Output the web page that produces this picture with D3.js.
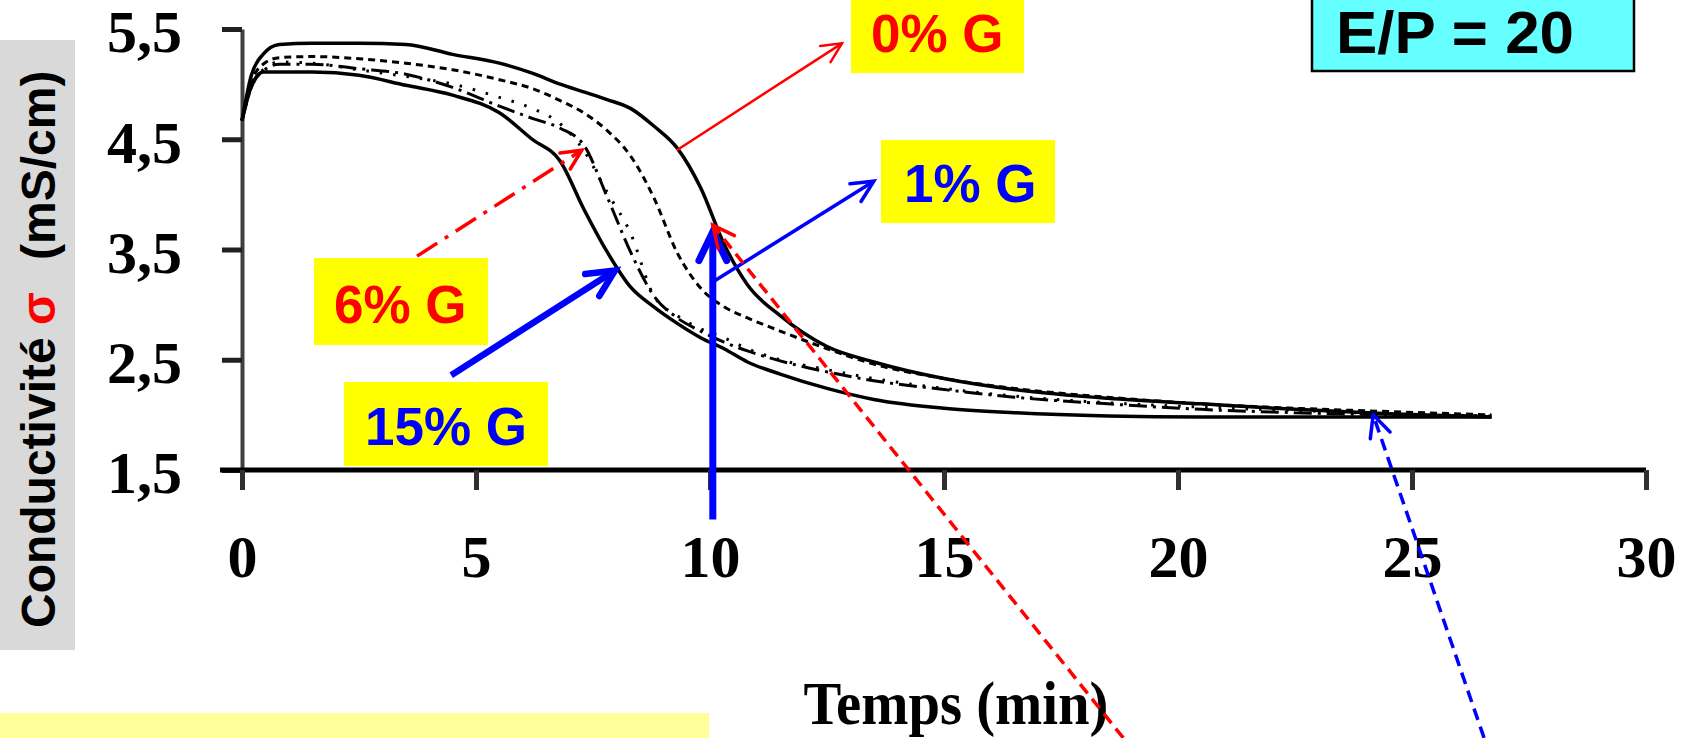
<!DOCTYPE html>
<html>
<head>
<meta charset="utf-8">
<script src="https://cdn.jsdelivr.net/npm/d3@7"></script>
<style>
  body { margin: 0; background: #fff; }
  svg { display: block; }
</style>
</head>
<body>
<script>
// time grid (min) shared by all curves
const temps = [0, 0.2, 0.45, 0.8, 1.5, 2.5, 3.5, 4.5, 5.5, 6.2, 6.8, 7.3, 7.8, 8.3, 8.8,
               9.3, 9.8, 10.3, 10.8, 11.5, 12.5, 13.5, 15, 16.5, 18.5, 20.5, 22.5, 24.5, 26.7];

// conductivity (mS/cm)
const sigma0 = [4.67, 5.08, 5.27, 5.36, 5.37, 5.37, 5.36, 5.27, 5.19, 5.10, 5.00, 4.93, 4.86, 4.78, 4.62,
                4.42, 4.06, 3.55, 3.18, 2.90, 2.62, 2.48, 2.33, 2.23, 2.15, 2.10, 2.05, 2.01, 1.98];
const sigma1 = [4.67, 5.02, 5.18, 5.24, 5.25, 5.23, 5.19, 5.13, 5.04, 4.96, 4.85, 4.74, 4.58, 4.35, 3.97,
                3.47, 3.15, 2.98, 2.88, 2.76, 2.60, 2.46, 2.33, 2.24, 2.16, 2.10, 2.06, 2.03, 2.00];
const sigmaDot = [4.67, 4.98, 5.13, 5.20, 5.19, 5.13, 5.07, 5.00, 4.88, 4.78, 4.64, 4.40, 4.02, 3.65, 3.08,
                  2.90, 2.78, 2.70, 2.60, 2.50, 2.41, 2.33, 2.24, 2.17, 2.11, 2.07, 2.04, 2.01, 1.99];
const sigma6 = [4.67, 4.97, 5.12, 5.18, 5.18, 5.14, 5.09, 4.97, 4.80, 4.69, 4.60, 4.45, 3.98, 3.48, 3.08,
                2.88, 2.76, 2.66, 2.58, 2.49, 2.39, 2.31, 2.23, 2.16, 2.10, 2.05, 2.02, 2.00, 1.99];
const sigma15 = [4.67, 4.98, 5.11, 5.11, 5.11, 5.08, 4.99, 4.90, 4.74, 4.50, 4.30, 3.87, 3.48, 3.16, 2.98,
                 2.83, 2.70, 2.60, 2.48, 2.37, 2.24, 2.14, 2.06, 2.02, 1.99, 1.98, 1.98, 1.98, 1.98];

const xTicks = [0, 5, 10, 15, 20, 25, 30];
const yTicks = [1.5, 2.5, 3.5, 4.5, 5.5];

const W = 1685, H = 738;

const svg = d3.select("body").append("svg")
    .attr("width", W)
    .attr("height", H);

// scales
const xScale = d3.scaleLinear().domain([0, 30]).range([242, 1646]);
const yScale = d3.scaleLinear().domain([1.5, 5.5]).range([470, 29]);

// grey band behind the y title, pale yellow strip bottom left
svg.append("rect").attr("x", 0).attr("y", 40).attr("width", 75).attr("height", 610).attr("fill", "#d9d9d9");
svg.append("rect").attr("x", 0).attr("y", 713).attr("width", 709).attr("height", 30).attr("fill", "#ffff99");

// y axis
const yAxis = d3.axisLeft(yScale)
    .tickValues(yTicks)
    .tickSize(20)
    .tickSizeOuter(0)
    .tickPadding(40)
    .tickFormat(d => d3.format(".1f")(d).replace(".", ","));
const gy = svg.append("g")
    .attr("transform", `translate(${xScale(0)},0)`)
    .call(yAxis);
gy.select(".domain").attr("stroke", "#404040").attr("stroke-width", 4);
gy.selectAll(".tick line").attr("stroke", "#202020").attr("stroke-width", 5);
gy.selectAll(".tick text")
    .attr("font-family", "'Liberation Serif', 'Times New Roman', serif")
    .attr("font-weight", "bold")
    .attr("font-size", 60)
    .attr("fill", "#000")
    .attr("dy", "0.38em");

// x axis
const xAxis = d3.axisBottom(xScale)
    .tickValues(xTicks)
    .tickSize(20)
    .tickSizeOuter(0);
const gx = svg.append("g")
    .attr("transform", `translate(0,${yScale(1.5)})`)
    .call(xAxis);
gx.select(".domain").attr("stroke", "#000").attr("stroke-width", 5)
    .attr("d", `M${xScale(0) - 22},0H${xScale(30)}`);
gx.selectAll(".tick line").attr("stroke", "#303030").attr("stroke-width", 5);
gx.selectAll(".tick text")
    .attr("font-family", "'Liberation Serif', 'Times New Roman', serif")
    .attr("font-weight", "bold")
    .attr("font-size", 60)
    .attr("fill", "#000")
    .attr("y", 107)
    .attr("dy", 0);

// axis titles
svg.append("text")
    .attr("x", 956)
    .attr("y", 724)
    .attr("text-anchor", "middle")
    .attr("font-family", "'Liberation Serif', 'Times New Roman', serif")
    .attr("font-weight", "bold")
    .attr("font-size", 62)
    .attr("textLength", 305)
    .attr("lengthAdjust", "spacingAndGlyphs")
    .text("Temps (min)");

const yTitle = svg.append("g")
    .attr("transform", "translate(55,628) rotate(-90)")
    .attr("font-family", "'Liberation Sans', Arial, sans-serif")
    .attr("font-weight", "bold")
    .attr("font-size", 48);
yTitle.append("text").attr("x", 0).attr("fill", "#000").text("Conductivité");
yTitle.append("text").attr("x", 303).attr("fill", "#ff0000").text("σ");
yTitle.append("text").attr("x", 368).attr("fill", "#000").text("(mS/cm)");

// curves
const series = [
  {values: sigma0, dash: null, width: 3.5},
  {values: sigma1, dash: "7,5", width: 3},
  {values: sigmaDot, dash: "2.5,11", width: 3},
  {values: sigma6, dash: "18,6,3,6", width: 3},
  {values: sigma15, dash: null, width: 3.5}
];

const valueline = d3.line()
    .x((d, i) => xScale(temps[i]))
    .y(d => yScale(d))
    .curve(d3.curveMonotoneX);

svg.selectAll("path.curve")
    .data(series)
    .enter().append("path")
    .attr("class", "curve")
    .attr("d", d => valueline(d.values))
    .attr("fill", "none")
    .attr("stroke", "#000")
    .attr("stroke-width", d => d.width)
    .attr("stroke-dasharray", d => d.dash);

// annotation arrows (data coordinates)
const arrows = [
  {from: [9.29, 4.40], to: [12.82, 5.37], color: "#ff0000", w: 2.5, dash: null, head: 22},
  {from: [10.04, 3.20], to: [13.5, 4.12], color: "#0000ff", w: 3.5, dash: null, head: 24},
  {from: [3.74, 3.44], to: [7.26, 4.40], color: "#ff0000", w: 3.5, dash: "24,9,4,9", head: 22},
  {from: [4.47, 2.36], to: [7.97, 3.31], color: "#0000ff", w: 6.5, dash: null, head: 30},
  {from: [10.06, 1.05], to: [10.06, 3.66], color: "#0000ff", w: 7, dash: null, head: 32},
  {from: [18.83, -0.93], to: [10.06, 3.72], color: "#ff0000", w: 3.5, dash: "12,7", head: 24},
  {from: [26.54, -0.93], to: [24.17, 2.0], color: "#0000ff", w: 3.5, dash: "12,7", head: 24}
];

arrows.forEach(a => {
  const x1 = xScale(a.from[0]), y1 = yScale(a.from[1]);
  const x2 = xScale(a.to[0]), y2 = yScale(a.to[1]);
  svg.append("line")
      .attr("x1", x1).attr("y1", y1)
      .attr("x2", x2).attr("y2", y2)
      .attr("stroke", a.color)
      .attr("stroke-width", a.w)
      .attr("stroke-dasharray", a.dash);
  const ang = Math.atan2(y2 - y1, x2 - x1);
  const p = d3.path();
  p.moveTo(x2 - a.head * Math.cos(ang - 0.45), y2 - a.head * Math.sin(ang - 0.45));
  p.lineTo(x2, y2);
  p.lineTo(x2 - a.head * Math.cos(ang + 0.45), y2 - a.head * Math.sin(ang + 0.45));
  svg.append("path")
      .attr("d", p.toString())
      .attr("fill", "none")
      .attr("stroke", a.color)
      .attr("stroke-width", a.w)
      .attr("stroke-linecap", "round");
});

// labels in yellow boxes
const labels = [
  {text: "0% G", color: "#ff0000", box: [851, -5, 173, 78], tx: 871, ty: 52},
  {text: "1% G", color: "#0000ff", box: [881, 140, 174, 83], tx: 904, ty: 202},
  {text: "6% G", color: "#ff0000", box: [314, 258, 174, 87], tx: 334, ty: 323},
  {text: "15% G", color: "#0000ff", box: [344, 382, 204, 84], tx: 365, ty: 445}
];

labels.forEach(l => {
  svg.append("rect")
      .attr("x", l.box[0]).attr("y", l.box[1])
      .attr("width", l.box[2]).attr("height", l.box[3])
      .attr("fill", "#ffff00");
  svg.append("text")
      .attr("x", l.tx).attr("y", l.ty)
      .attr("font-family", "'Liberation Sans', Arial, sans-serif")
      .attr("font-weight", "bold")
      .attr("font-size", 53)
      .attr("fill", l.color)
      .text(l.text);
});

// E/P box
svg.append("rect")
    .attr("x", 1312).attr("y", -10)
    .attr("width", 322).attr("height", 81)
    .attr("fill", "#66ffff")
    .attr("stroke", "#000")
    .attr("stroke-width", 2.5);
svg.append("text")
    .attr("x", 1336).attr("y", 53)
    .attr("font-family", "'Liberation Sans', Arial, sans-serif")
    .attr("font-weight", "bold")
    .attr("font-size", 60)
    .attr("textLength", 238)
    .attr("lengthAdjust", "spacingAndGlyphs")
    .attr("fill", "#000")
    .text("E/P = 20");
</script>
</body>
</html>
